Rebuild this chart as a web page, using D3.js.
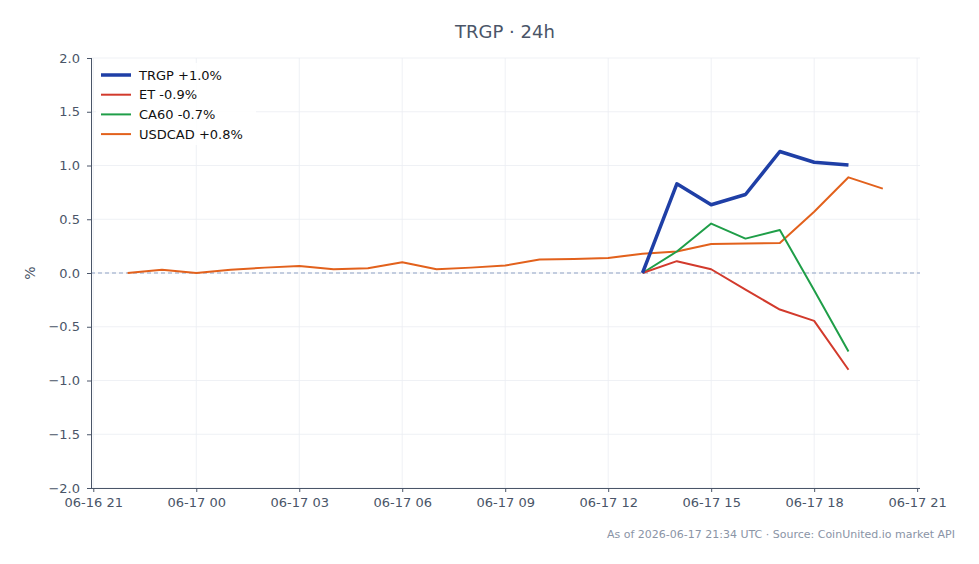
<!DOCTYPE html>
<html><head><meta charset="utf-8">
<script src="https://cdn.jsdelivr.net/npm/d3@7"></script>
<style>
body{margin:0;background:#fff;}
svg{display:block;font-family:"DejaVu Sans",sans-serif;}
</style></head>
<body><svg id="c" width="979" height="564"></svg>
<script>
const hours = ["2026-06-16T22:00","2026-06-16T23:00","2026-06-17T00:00","2026-06-17T01:00","2026-06-17T02:00","2026-06-17T03:00","2026-06-17T04:00","2026-06-17T05:00","2026-06-17T06:00","2026-06-17T07:00","2026-06-17T08:00","2026-06-17T09:00","2026-06-17T10:00","2026-06-17T11:00","2026-06-17T12:00","2026-06-17T13:00","2026-06-17T14:00","2026-06-17T15:00","2026-06-17T16:00","2026-06-17T17:00","2026-06-17T18:00","2026-06-17T19:00","2026-06-17T20:00"];
const usdcad = [0.0,0.03,0.0,0.03,0.05,0.065,0.035,0.045,0.10,0.035,0.05,0.07,0.125,0.13,0.14,0.18,0.2,0.27,0.275,0.28,0.57,0.89,0.785];
const stockHours = ["2026-06-17T13:00","2026-06-17T14:00","2026-06-17T15:00","2026-06-17T16:00","2026-06-17T17:00","2026-06-17T18:00","2026-06-17T19:00"];
const trgp = [0.0,0.83,0.635,0.73,1.13,1.03,1.005];
const et = [0.0,0.11,0.035,-0.155,-0.34,-0.445,-0.9];
const ca60 = [0.0,0.20,0.46,0.32,0.40,-0.16,-0.73];
const legendLabels = ["TRGP +1.0%","ET -0.9%","CA60 -0.7%","USDCAD +0.8%"];
const yTicks = [-2.0,-1.5,-1.0,-0.5,0.0,0.5,1.0,1.5,2.0];
const xTickHours = ["2026-06-16T21:00","2026-06-17T00:00","2026-06-17T03:00","2026-06-17T06:00","2026-06-17T09:00","2026-06-17T12:00","2026-06-17T15:00","2026-06-17T18:00","2026-06-17T21:00"];

const parse = d3.utcParse("%Y-%m-%dT%H:%M");
const svg = d3.select("#c");
const L=91, R=920, T=58, B=488;
const x = d3.scaleUtc().domain([parse("2026-06-16T20:56"), parse("2026-06-17T21:05")]).range([L,R]);
const y = d3.scaleLinear().domain([-2,2]).range([B,T]);
const axisCol = "#4a5568", textCol = "#4a5568", gridCol = "#ebeef3";

// grid
svg.append("g").selectAll("line").data(xTickHours).join("line")
  .attr("x1",d=>x(parse(d))).attr("x2",d=>x(parse(d))).attr("y1",T).attr("y2",B)
  .attr("stroke",gridCol).attr("stroke-width",0.8);
svg.append("g").selectAll("line").data(yTicks).join("line")
  .attr("x1",L).attr("x2",R).attr("y1",d=>y(d)).attr("y2",d=>y(d))
  .attr("stroke",gridCol).attr("stroke-width",0.8);

// zero line
svg.append("line").attr("x1",L).attr("x2",R).attr("y1",y(0)).attr("y2",y(0))
  .attr("stroke","#8fa2c4").attr("stroke-width",1).attr("stroke-dasharray","4,3");

// axes
const fmt = d3.utcFormat("%m-%d %H");
const xAxis = d3.axisBottom(x).tickValues(xTickHours.map(parse)).tickFormat(fmt).tickSize(4).tickPadding(6);
const gx = svg.append("g").attr("transform",`translate(0,${B})`).call(xAxis);
const yAxis = d3.axisLeft(y).tickValues(yTicks).tickFormat(d=>d3.format(".1f")(d).replace("-","\u2212")).tickSize(4).tickPadding(7);
const gy = svg.append("g").attr("transform",`translate(${L},0)`).call(yAxis);
[gx,gy].forEach(g=>{
  g.select(".domain").attr("stroke",axisCol).attr("stroke-width",1);
  g.selectAll(".tick line").attr("stroke",axisCol);
  g.selectAll(".tick text").attr("fill",textCol).attr("font-size",13).attr("font-family","DejaVu Sans");
});
gx.select(".domain").attr("d",`M${L},0.5H${R}`);
gy.select(".domain").attr("d",`M0.5,${T}V${B}`);

// lines
const line = d3.line().x(d=>x(d[0])).y(d=>y(d[1]));
const series = [
  {name:"USDCAD", t:hours, v:usdcad, color:"#e2611c", w:2},
  {name:"CA60", t:stockHours, v:ca60, color:"#1f9e48", w:2},
  {name:"ET", t:stockHours, v:et, color:"#d23a2c", w:2},
  {name:"TRGP", t:stockHours, v:trgp, color:"#1f3fa6", w:3.5}
];
series.forEach(s=>{
  svg.append("path").datum(s.t.map((t,i)=>[parse(t),s.v[i]]))
    .attr("d",line).attr("fill","none").attr("stroke",s.color).attr("stroke-width",s.w)
    .attr("stroke-linejoin","round").attr("stroke-linecap","butt");
});

// legend
const legCols = ["#1f3fa6","#d23a2c","#1f9e48","#e2611c"];
const legW = [3.5,2,2,2];
const lg = svg.append("g");
lg.append("rect").attr("x",96).attr("y",63).attr("width",160).attr("height",82).attr("fill","#fff").attr("fill-opacity",0.85);
legendLabels.forEach((lab,i)=>{
  const yy = 75 + i*19.7;
  lg.append("line").attr("x1",101).attr("x2",131).attr("y1",yy).attr("y2",yy).attr("stroke",legCols[i]).attr("stroke-width",legW[i]);
  lg.append("text").attr("x",139).attr("y",yy+4.6).text(lab).attr("font-size",13).attr("fill","#111");
});

// title
svg.append("text").attr("x",505).attr("y",38).attr("text-anchor","middle").attr("font-size",18).attr("fill","#4a5568").text("TRGP · 24h");
// y label
svg.append("text").attr("transform","translate(35,273) rotate(-90)").attr("text-anchor","middle").attr("font-size",14).attr("fill",textCol).text("%");
// footer
svg.append("text").attr("x",955).attr("y",538).attr("text-anchor","end").attr("font-size",11).attr("fill","#8a94a6").text("As of 2026-06-17 21:34 UTC · Source: CoinUnited.io market API");
</script></body></html>
